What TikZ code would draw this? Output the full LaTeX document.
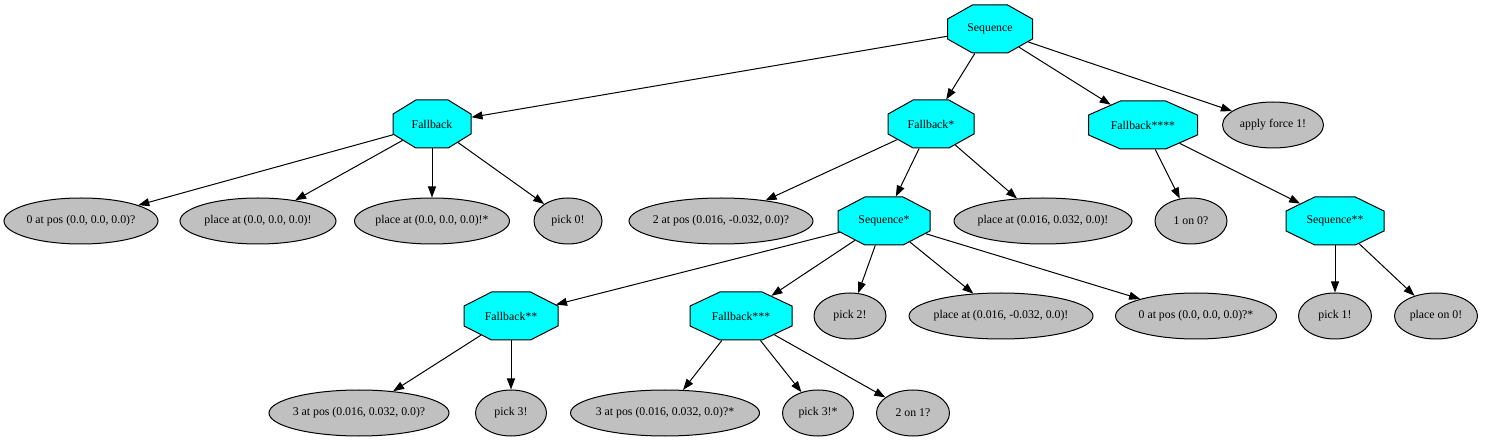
\documentclass[tikz,border=0pt]{standalone}
\usepackage{fontspec}
\setmainfont{Liberation Serif}
\usetikzlibrary{shapes.geometric,arrows.meta}
\definecolor{octfill}{RGB}{0,255,255}
\definecolor{leaffill}{RGB}{192,192,192}
\newcommand\nt[1]{\makebox[0pt]{#1}}
\makeatletter
\pgfdeclareshape{gvoct}{%
  \inheritsavedanchors[from=rectangle]%
  \inheritanchor[from=rectangle]{center}%
  \inheritanchor[from=rectangle]{north}%
  \inheritanchor[from=rectangle]{south}%
  \inheritanchor[from=rectangle]{east}%
  \inheritanchor[from=rectangle]{west}%
  \anchorborder{%
    \edef\oct@dx{\the\pgf@x}%
    \edef\oct@dy{\the\pgf@y}%
    \southwest
    \pgf@xa=\pgf@x \pgf@ya=\pgf@y
    \northeast
    \advance\pgf@x by-\pgf@xa
    \advance\pgf@y by-\pgf@ya
    \pgf@xc=.5\pgf@x \pgf@yc=.5\pgf@y
    \advance\pgf@xa by\pgf@xc
    \advance\pgf@ya by\pgf@yc
    \edef\oct@cx{\the\pgf@xa}\edef\oct@cy{\the\pgf@ya}%
    \edef\oct@a{\the\pgf@xc}\edef\oct@b{\the\pgf@yc}%
    \pgfmathsetmacro\oct@u{abs(\oct@dx)/\oct@a}%
    \pgfmathsetmacro\oct@v{abs(\oct@dy)/\oct@b}%
    \pgfmathsetmacro\oct@t{1/max(\oct@u,\oct@v,(\oct@u+\oct@v)/1.41421,0.0001)}%
    \pgfmathsetlength\pgf@x{\oct@t*\oct@dx+\oct@cx}%
    \pgfmathsetlength\pgf@y{\oct@t*\oct@dy+\oct@cy}%
  }%
  \backgroundpath{%
    \southwest \pgf@xa=\pgf@x \pgf@ya=\pgf@y
    \northeast \pgf@xb=\pgf@x \pgf@yb=\pgf@y
    \pgfmathsetlength\pgf@xc{\pgfkeysvalueof{/pgf/outer xsep}}%
    \pgfmathsetlength\pgf@yc{\pgfkeysvalueof{/pgf/outer ysep}}%
    \advance\pgf@xa by\pgf@xc \advance\pgf@ya by\pgf@yc
    \advance\pgf@xb by-\pgf@xc \advance\pgf@yb by-\pgf@yc
    \pgf@xc=\pgf@xb \advance\pgf@xc by-\pgf@xa \pgf@xc=0.29289\pgf@xc
    \pgf@yc=\pgf@yb \advance\pgf@yc by-\pgf@ya \pgf@yc=0.29289\pgf@yc
    \edef\oct@xa{\the\pgf@xa}\edef\oct@ya{\the\pgf@ya}%
    \edef\oct@xb{\the\pgf@xb}\edef\oct@yb{\the\pgf@yb}%
    \edef\oct@hx{\the\pgf@xc}\edef\oct@hy{\the\pgf@yc}%
    \pgfpathmoveto{\pgfpoint{\oct@xa+\oct@hx}{\oct@ya}}%
    \pgfpathlineto{\pgfpoint{\oct@xb-\oct@hx}{\oct@ya}}%
    \pgfpathlineto{\pgfpoint{\oct@xb}{\oct@ya+\oct@hy}}%
    \pgfpathlineto{\pgfpoint{\oct@xb}{\oct@yb-\oct@hy}}%
    \pgfpathlineto{\pgfpoint{\oct@xb-\oct@hx}{\oct@yb}}%
    \pgfpathlineto{\pgfpoint{\oct@xa+\oct@hx}{\oct@yb}}%
    \pgfpathlineto{\pgfpoint{\oct@xa}{\oct@yb-\oct@hy}}%
    \pgfpathlineto{\pgfpoint{\oct@xa}{\oct@ya+\oct@hy}}%
    \pgfpathclose
  }%
}
\makeatother
\tikzset{
  base/.style={draw=black, line width=1pt, inner sep=0pt, font=\fontsize{11.8}{14}\selectfont},
  oct/.style={base, shape=gvoct, fill=octfill, minimum width=#1, minimum height=48},
  leaf/.style={base, ellipse, fill=leaffill, minimum width=#1, minimum height=46},
  edge/.style={draw=black, line width=1pt, -{Triangle[length=11pt,width=8pt]}}
}
\begin{document}
\begin{tikzpicture}[x=1pt,y=-1pt]
\useasboundingbox (0,0) rectangle (1486,443);
% level 0
\node[oct=85] (seq) at (990,29) {\nt{Sequence}};
% level 1
\node[oct=78] (fb) at (432,124) {\nt{Fallback}};
\node[oct=86] (fb1) at (931,124) {\nt{Fallback*}};
\node[oct=109] (fb4) at (1143,125) {\nt{Fallback****}};
\node[leaf=101] (force) at (1273,125) {\nt{apply force 1!}};
% level 2
\node[leaf=154] (p0) at (81,221) {\nt{0 at pos (0.0, 0.0, 0.0)?}};
\node[leaf=156] (pl0) at (258,221) {\nt{place at (0.0, 0.0, 0.0)!}};
\node[leaf=155] (pl0s) at (432,221) {\nt{place at (0.0, 0.0, 0.0)!*}};
\node[leaf=68] (pick0) at (568,221) {\nt{pick 0!}};
\node[leaf=184] (p2) at (721,221) {\nt{2 at pos (0.016, -0.032, 0.0)?}};
\node[oct=92] (seq1) at (884,221) {\nt{Sequence*}};
\node[leaf=178] (pl2) at (1043,221) {\nt{place at (0.016, 0.032, 0.0)!}};
\node[leaf=72] (on10) at (1191,221) {\nt{1 on 0?}};
\node[oct=98] (seq2) at (1335,221) {\nt{Sequence**}};
% level 3
\node[oct=94] (fb2) at (511,316) {\nt{Fallback**}};
\node[oct=102] (fb3) at (741,316) {\nt{Fallback***}};
\node[leaf=72] (pick2) at (850,316) {\nt{pick 2!}};
\node[leaf=184] (pl3) at (1001,316) {\nt{place at (0.016, -0.032, 0.0)!}};
\node[leaf=161] (p0s) at (1196,316) {\nt{0 at pos (0.0, 0.0, 0.0)?*}};
\node[leaf=73] (pick1) at (1335,316) {\nt{pick 1!}};
\node[leaf=83] (plon0) at (1436,316) {\nt{place on 0!}};
% level 4
\node[leaf=180] (p3) at (359,413) {\nt{3 at pos (0.016, 0.032, 0.0)?}};
\node[leaf=71] (pick3) at (511,413) {\nt{pick 3!}};
\node[leaf=189] (p3s) at (665,413) {\nt{3 at pos (0.016, 0.032, 0.0)?*}};
\node[leaf=71] (pick3s) at (818,413) {\nt{pick 3!*}};
\node[leaf=73] (on21) at (913,413) {\nt{2 on 1?}};
% edges
\draw[edge] (seq) -- (fb);
\draw[edge] (seq) -- (fb1);
\draw[edge] (seq) -- (fb4);
\draw[edge] (seq) -- (force);
\draw[edge] (fb) -- (p0);
\draw[edge] (fb) -- (pl0);
\draw[edge] (fb) -- (pl0s);
\draw[edge] (fb) -- (pick0);
\draw[edge] (fb1) -- (p2);
\draw[edge] (fb1) -- (seq1);
\draw[edge] (fb1) -- (pl2);
\draw[edge] (fb4) -- (on10);
\draw[edge] (fb4) -- (seq2);
\draw[edge] (seq1) -- (fb2);
\draw[edge] (seq1) -- (fb3);
\draw[edge] (seq1) -- (pick2);
\draw[edge] (seq1) -- (pl3);
\draw[edge] (seq1) -- (p0s);
\draw[edge] (seq2) -- (pick1);
\draw[edge] (seq2) -- (plon0);
\draw[edge] (fb2) -- (p3);
\draw[edge] (fb2) -- (pick3);
\draw[edge] (fb3) -- (p3s);
\draw[edge] (fb3) -- (pick3s);
\draw[edge] (fb3) -- (on21);
\end{tikzpicture}
\end{document}
